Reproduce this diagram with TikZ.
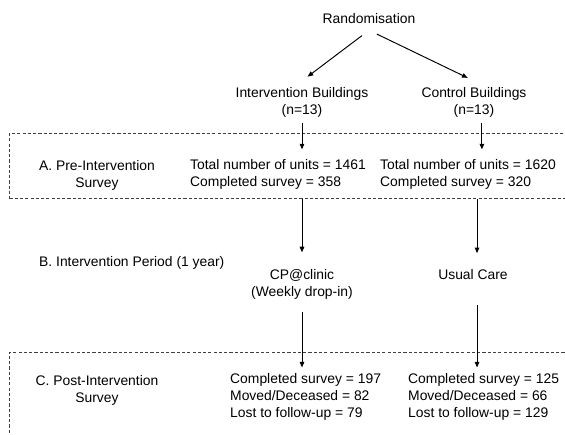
\documentclass[tikz,border=0pt]{standalone}
\usepackage{fontspec}
\setmainfont{Liberation Sans}
\usepackage{xcolor}
\usetikzlibrary{arrows.meta, positioning, calc}

\begin{document}
\begin{tikzpicture}[
    x=0.02cm, y=-0.02cm,
    txt/.style={align=center, font=\fontsize{7.9}{9.6}\selectfont},
    col/.style={align=left, anchor=west, font=\fontsize{7.9}{9.6}\selectfont},
    phase/.style={rectangle, draw=black!75, dash pattern=on 1.8pt off 1.2pt, line width=0.5pt, minimum width=323.7pt, anchor=north west, inner sep=0pt},
    arrow/.style={-{Triangle[length=3.2pt, width=2.6pt]}, line width=0.55pt}
]
\useasboundingbox (0,0) rectangle (565,435);

% Phase boxes
\node[phase, minimum height=36.85pt] (boxA) at (9,133) {};
\node[phase, minimum height=55.6pt] (boxC) at (9,352) {};

% Randomisation
\node[txt] (rand) at (369,19) {Randomisation};

% Arms
\node[txt] (intb) at (302,102) {Intervention Buildings\\(n=13)};
\node[txt] (ctrl) at (474,102) {Control Buildings\\(n=13)};

% A. Pre-intervention survey
\node[txt] (preL) at (97,175) {A. Pre-Intervention\\Survey};
\node[col] (preI) at (184,174) {Total number of units = 1461\\Completed survey = 358};
\node[col] (preC) at (374,174) {Total number of units = 1620\\Completed survey = 320};

% B. Intervention period
\node[col] (perB) at (33,263) {B. Intervention Period (1 year)};
\node[txt] (cpc) at (302,284) {CP@clinic\\(Weekly drop-in)};
\node[txt] (usual) at (473,275) {Usual Care};

% C. Post-intervention survey
\node[txt] (postL) at (97,390) {C. Post-Intervention\\Survey};
\node[col] (postI) at (224,397) {Completed survey = 197\\Moved/Deceased = 82\\Lost to follow-up = 79};
\node[col] (postC) at (402,397) {Completed survey = 125\\Moved/Deceased = 66\\Lost to follow-up = 129};

% Arrows
\draw[arrow, shorten <=5pt, shorten >=4pt] (rand.south) -- (intb.north);
\draw[arrow, shorten <=5pt, shorten >=4pt] (rand.south) -- (ctrl.north);
\draw[arrow, shorten >=2pt] (intb.south) -- (intb.south |- preI.north);
\draw[arrow, shorten >=2pt] ([xshift=4.5pt]ctrl.south) -- ([xshift=4.5pt]ctrl.south |- preC.north);
\draw[arrow, shorten >=6pt] (boxA.south -| cpc.north) -- (cpc.north);
\draw[arrow, shorten >=6pt] ([xshift=2.3pt]boxA.south -| usual.north) -- ([xshift=2.3pt]usual.north);
\draw[arrow, shorten <=4pt] (cpc.south) -- (cpc.south |- postI.north);
\draw[arrow] ([xshift=2.3pt]usual.south |- cpc.south) -- ([xshift=2.3pt]usual.south |- postC.north);

\end{tikzpicture}
\end{document}
